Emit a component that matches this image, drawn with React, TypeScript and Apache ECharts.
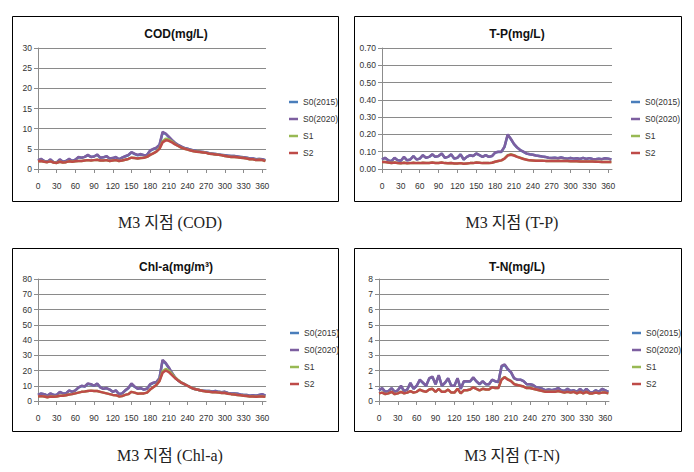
import React, { useEffect, useRef } from "react";
import * as echarts from "echarts";

const days = [0,5,10,15,20,25,30,35,40,45,50,55,60,65,70,75,80,85,90,95,100,105,110,115,120,125,130,135,140,145,150,155,160,165,170,175,180,185,190,195,200,205,210,215,220,225,230,235,240,245,250,255,260,265,270,275,280,285,290,295,300,305,310,315,320,325,330,335,340,345,350,355,360,365];
const xTicks = [0,30,60,90,120,150,180,210,240,270,300,330,360];
const seriesNames = ["S0(2015)", "S0(2020)", "S1", "S2"];
const seriesColors = ["#4A7EBB", "#7D5FA0", "#98B954", "#BE4B48"];

// COD (mg/L)
const codS0_2015 = [2.1,2.4,2.0,1.8,2.3,1.7,1.6,2.3,1.8,2.0,2.4,2.0,2.3,2.9,2.8,3.0,3.4,3.0,3.1,3.5,2.8,2.9,3.1,2.6,2.7,2.9,2.4,2.8,3.1,3.4,4.1,3.7,3.4,3.6,3.4,3.5,4.5,4.9,5.2,5.9,9.0,8.7,7.9,7.1,6.4,5.9,5.5,5.2,5.0,4.8,4.6,4.4,4.3,4.2,4.1,3.9,3.8,3.7,3.6,3.5,3.4,3.3,3.2,3.2,3.1,3.0,2.9,2.8,2.6,2.6,2.4,2.5,2.4,2.2];
const codS0_2020 = [2.2,2.5,2.0,1.8,2.4,1.7,1.6,2.4,1.8,2.0,2.5,2.0,2.3,3.0,2.8,3.0,3.5,3.0,3.1,3.6,2.8,2.9,3.2,2.6,2.7,3.0,2.4,2.8,3.2,3.5,4.2,3.8,3.5,3.7,3.4,3.5,4.6,5.0,5.3,6.0,9.2,8.8,8.0,7.2,6.5,6.0,5.6,5.2,5.0,4.8,4.6,4.4,4.3,4.2,4.1,3.9,3.8,3.7,3.6,3.5,3.4,3.3,3.2,3.2,3.1,3.0,2.9,2.8,2.6,2.6,2.4,2.5,2.4,2.2];
const codS1 = [1.9,2.0,1.8,1.7,1.9,1.6,1.5,1.8,1.6,1.7,1.9,1.8,1.9,2.0,2.0,2.1,2.2,2.1,2.2,2.3,2.1,2.1,2.2,2.0,2.1,2.2,2.0,2.1,2.3,2.5,2.8,2.7,2.6,2.7,2.8,3.0,3.5,3.9,4.3,5.1,6.9,7.5,7.3,6.8,6.2,5.7,5.3,5.0,4.8,4.6,4.4,4.3,4.2,4.1,4.0,3.8,3.7,3.6,3.5,3.4,3.2,3.1,3.0,3.0,2.9,2.8,2.7,2.6,2.4,2.4,2.2,2.3,2.2,2.0];
const codS2 = [1.9,2.0,1.8,1.7,1.9,1.6,1.5,1.8,1.6,1.7,1.9,1.8,1.9,2.0,2.0,2.1,2.2,2.1,2.2,2.3,2.1,2.1,2.2,2.0,2.1,2.2,2.0,2.1,2.3,2.5,2.8,2.7,2.6,2.7,2.8,3.0,3.5,3.9,4.3,5.0,6.6,7.1,7.0,6.6,6.1,5.7,5.3,5.0,4.8,4.6,4.4,4.3,4.2,4.1,4.0,3.8,3.7,3.6,3.5,3.4,3.2,3.1,3.0,3.0,2.9,2.8,2.7,2.6,2.4,2.4,2.2,2.3,2.2,2.0];

// T-P (mg/L)
const tpS0_2015 = [0.054,0.064,0.050,0.045,0.064,0.050,0.048,0.069,0.050,0.055,0.074,0.055,0.060,0.079,0.065,0.070,0.084,0.070,0.075,0.089,0.065,0.070,0.084,0.060,0.065,0.084,0.055,0.070,0.079,0.075,0.089,0.080,0.070,0.080,0.070,0.075,0.094,0.099,0.099,0.128,0.197,0.173,0.144,0.124,0.109,0.099,0.089,0.085,0.082,0.078,0.075,0.072,0.070,0.065,0.063,0.065,0.062,0.066,0.062,0.060,0.064,0.060,0.062,0.058,0.064,0.058,0.063,0.058,0.056,0.060,0.057,0.062,0.060,0.055];
const tpS0_2020 = [0.055,0.065,0.050,0.045,0.065,0.050,0.048,0.070,0.050,0.055,0.075,0.055,0.060,0.080,0.065,0.070,0.085,0.070,0.075,0.090,0.065,0.070,0.085,0.060,0.065,0.085,0.055,0.070,0.080,0.075,0.090,0.080,0.070,0.080,0.070,0.075,0.095,0.100,0.100,0.130,0.200,0.175,0.145,0.125,0.110,0.100,0.090,0.085,0.082,0.078,0.075,0.072,0.070,0.065,0.063,0.065,0.062,0.066,0.062,0.060,0.064,0.060,0.062,0.058,0.064,0.058,0.063,0.058,0.056,0.060,0.057,0.062,0.060,0.055];
const tpS1 = [0.040,0.040,0.037,0.035,0.038,0.035,0.033,0.036,0.033,0.034,0.036,0.034,0.034,0.036,0.035,0.035,0.037,0.035,0.035,0.037,0.034,0.033,0.035,0.032,0.032,0.034,0.030,0.032,0.034,0.034,0.037,0.036,0.034,0.035,0.034,0.036,0.042,0.046,0.050,0.061,0.080,0.085,0.080,0.072,0.065,0.059,0.054,0.050,0.049,0.048,0.048,0.048,0.047,0.047,0.047,0.047,0.046,0.046,0.046,0.046,0.045,0.045,0.045,0.044,0.044,0.044,0.043,0.043,0.042,0.042,0.041,0.041,0.040,0.040];
const tpS2 = [0.040,0.040,0.037,0.035,0.038,0.035,0.033,0.036,0.033,0.034,0.036,0.034,0.034,0.036,0.035,0.035,0.037,0.035,0.035,0.037,0.034,0.033,0.035,0.032,0.032,0.034,0.030,0.032,0.034,0.034,0.037,0.036,0.034,0.035,0.034,0.036,0.042,0.046,0.050,0.060,0.078,0.082,0.078,0.070,0.064,0.058,0.054,0.050,0.049,0.048,0.048,0.048,0.047,0.047,0.047,0.047,0.046,0.046,0.046,0.046,0.045,0.045,0.045,0.044,0.044,0.044,0.043,0.043,0.042,0.042,0.041,0.041,0.040,0.040];

// Chl-a (mg/m3)
const chlS0_2015 = [4.0,4.8,4.5,3.5,4.8,4.0,4.0,5.8,5.0,5.0,6.8,6.0,7.0,8.8,9.8,9.5,11.2,10.8,10.0,11.2,9.0,8.0,8.3,7.5,6.0,6.8,4.5,5.0,6.8,8.3,11.2,9.3,8.0,8.3,7.5,8.0,10.8,11.8,12.3,14.8,26.5,24.6,21.7,18.3,15.4,13.4,12.0,11.0,10.0,9.0,8.0,7.5,7.0,6.8,6.5,6.5,6.3,6.5,6.0,5.8,6.0,5.3,5.0,5.0,4.8,4.3,4.0,4.0,3.5,3.8,3.5,4.0,4.4,3.5];
const chlS0_2020 = [4.0,5.0,4.5,3.5,5.0,4.0,4.0,6.0,5.0,5.0,7.0,6.0,7.0,9.0,10.0,9.5,11.5,11.0,10.0,11.5,9.0,8.0,8.5,7.5,6.0,7.0,4.5,5.0,7.0,8.5,11.5,9.5,8.0,8.5,7.5,8.0,11.0,12.0,12.5,15.0,27.0,25.0,22.0,18.5,15.5,13.5,12.0,11.0,10.0,9.0,8.0,7.5,7.0,6.8,6.5,6.5,6.3,6.5,6.0,5.8,6.0,5.3,5.0,5.0,4.8,4.3,4.0,4.0,3.5,3.8,3.5,4.0,4.5,3.5];
const chlS1 = [3.0,3.2,3.0,2.5,3.0,2.8,3.0,3.5,3.5,3.8,4.2,4.5,5.0,5.5,6.0,6.2,6.5,6.8,6.5,6.5,6.0,5.5,5.0,4.5,4.0,3.8,3.0,3.2,4.0,4.5,6.0,5.5,4.8,5.0,5.0,5.5,7.5,9.0,10.5,13.3,19.5,21.0,20.0,17.8,15.4,13.7,12.1,11.0,10.0,9.0,8.0,7.5,7.0,6.5,6.3,6.0,5.8,5.8,5.5,5.3,5.2,4.8,4.5,4.3,4.0,3.8,3.5,3.3,3.0,3.0,2.8,3.0,3.0,2.7];
const chlS2 = [3.0,3.2,3.0,2.5,3.0,2.8,3.0,3.5,3.5,3.8,4.2,4.5,5.0,5.5,6.0,6.2,6.5,6.8,6.5,6.5,6.0,5.5,5.0,4.5,4.0,3.8,3.0,3.2,4.0,4.5,6.0,5.5,4.8,5.0,5.0,5.5,7.5,9.0,10.5,13.0,18.5,20.0,19.0,17.0,15.0,13.5,12.0,11.0,10.0,9.0,8.0,7.5,7.0,6.5,6.3,6.0,5.8,5.8,5.5,5.3,5.2,4.8,4.5,4.3,4.0,3.8,3.5,3.3,3.0,3.0,2.8,3.0,3.0,2.7];

// T-N (mg/L)
const tnS0_2015 = [0.70,0.83,0.60,0.65,0.83,0.60,0.70,0.97,0.65,0.75,1.17,0.80,1.00,1.37,1.18,1.00,1.47,1.57,1.10,1.66,1.00,1.18,1.47,1.00,1.00,1.47,0.80,1.28,1.28,1.28,1.52,1.28,1.10,1.28,1.10,1.10,1.38,1.28,1.24,2.25,2.36,2.07,1.88,1.48,1.40,1.40,1.30,1.10,1.10,1.05,0.90,0.85,0.80,0.70,0.75,0.70,0.75,0.85,0.70,0.65,0.80,0.65,0.70,0.60,0.80,0.60,0.80,0.60,0.55,0.70,0.60,0.80,0.70,0.60];
const tnS0_2020 = [0.70,0.85,0.60,0.65,0.85,0.60,0.70,1.00,0.65,0.75,1.20,0.80,1.00,1.40,1.20,1.00,1.50,1.60,1.10,1.70,1.00,1.20,1.50,1.00,1.00,1.50,0.80,1.30,1.30,1.30,1.55,1.30,1.10,1.30,1.10,1.10,1.40,1.30,1.25,2.30,2.40,2.10,1.90,1.50,1.40,1.40,1.30,1.10,1.10,1.05,0.90,0.85,0.80,0.70,0.75,0.70,0.75,0.85,0.70,0.65,0.80,0.65,0.70,0.60,0.80,0.60,0.80,0.60,0.55,0.70,0.60,0.80,0.70,0.60];
const tnS1 = [0.50,0.55,0.45,0.50,0.60,0.45,0.50,0.60,0.50,0.55,0.65,0.55,0.60,0.75,0.65,0.60,0.75,0.80,0.60,0.80,0.60,0.60,0.75,0.55,0.55,0.80,0.50,0.70,0.70,0.75,0.90,0.80,0.70,0.80,0.75,0.75,0.90,0.85,0.85,1.42,1.58,1.43,1.32,1.12,1.06,1.00,0.95,0.85,0.85,0.80,0.75,0.70,0.65,0.60,0.60,0.60,0.60,0.65,0.60,0.55,0.60,0.55,0.60,0.50,0.60,0.50,0.60,0.50,0.50,0.55,0.50,0.55,0.55,0.50];
const tnS2 = [0.50,0.55,0.45,0.50,0.60,0.45,0.50,0.60,0.50,0.55,0.65,0.55,0.60,0.75,0.65,0.60,0.75,0.80,0.60,0.80,0.60,0.60,0.75,0.55,0.55,0.80,0.50,0.70,0.70,0.75,0.90,0.80,0.70,0.80,0.75,0.75,0.90,0.85,0.85,1.40,1.55,1.40,1.30,1.10,1.05,1.00,0.95,0.85,0.85,0.80,0.75,0.70,0.65,0.60,0.60,0.60,0.60,0.65,0.60,0.55,0.60,0.55,0.60,0.50,0.60,0.50,0.60,0.50,0.50,0.55,0.50,0.55,0.55,0.50];

const panelTitles = ["COD(mg/L)", "T-P(mg/L)", "Chl-a(mg/m³)", "T-N(mg/L)"];
const captions = ["M3 지점 (COD)", "M3 지점 (T-P)", "M3 지점 (Chl-a)", "M3 지점 (T-N)"];
const yMax = [30, 0.7, 80, 8];
const yStep = [5, 0.1, 10, 1];
const yDecimals = [0, 2, 0, 0];

const panelData = [
  [codS0_2015, codS0_2020, codS1, codS2],
  [tpS0_2015, tpS0_2020, tpS1, tpS2],
  [chlS0_2015, chlS0_2020, chlS1, chlS2],
  [tnS0_2015, tnS0_2020, tnS1, tnS2],
];

// layout (pixels)
const grids = [
  { left: 38, top: 48, width: 228, height: 121 },
  { left: 382, top: 48, width: 230, height: 121 },
  { left: 38, top: 279, width: 228, height: 122 },
  { left: 379, top: 279, width: 230, height: 122 },
];
const boxes = [
  { x: 12.5, y: 16.5, width: 326, height: 185 },
  { x: 354.5, y: 16.5, width: 327, height: 185 },
  { x: 12.5, y: 248.5, width: 326, height: 183 },
  { x: 354.5, y: 248.5, width: 327, height: 183 },
];
const titlePos = [
  [176, 34],
  [517, 34],
  [176, 267],
  [517, 267],
];
const legendPos = [
  { left: 284, top: 92 },
  { left: 626, top: 92 },
  { left: 285, top: 323 },
  { left: 627, top: 323 },
];
const captionPos = [
  [170, 222],
  [512, 222],
  [170, 455],
  [512, 455],
];

const SANS = "'Liberation Sans', 'Noto Sans', sans-serif";
const SERIF = "'Liberation Serif', 'Noto Sans CJK KR', serif";

export default function App() {
  const ref = useRef<HTMLDivElement>(null);
  useEffect(() => {
    if (!ref.current) return;
    const chart = echarts.init(ref.current, undefined, { renderer: "svg" });

    const xAxis: any[] = [];
    const yAxis: any[] = [];
    const series: any[] = [];
    const legend: any[] = [];
    const graphic: any[] = [];

    for (let p = 0; p < 4; p++) {
      xAxis.push({
        type: "value",
        gridIndex: p,
        min: 0,
        max: 366,
        interval: 30,
        axisLine: { show: true, onZero: false, lineStyle: { color: "#8c8c8c", width: 1 } },
        axisTick: { show: true, length: 4, lineStyle: { color: "#8c8c8c" } },
        splitLine: { show: false },
        axisLabel: {
          margin: 12,
          fontSize: 8.5,
          color: "#333",
          fontFamily: SANS,
          showMaxLabel: false,
          formatter: (v: number) => (xTicks.indexOf(v) >= 0 ? String(v) : ""),
        },
      });
      yAxis.push({
        type: "value",
        gridIndex: p,
        min: 0,
        max: yMax[p],
        interval: yStep[p],
        axisLine: { show: true, lineStyle: { color: "#8c8c8c", width: 1 } },
        axisTick: { show: true, length: 4, lineStyle: { color: "#8c8c8c" } },
        splitLine: { show: true, lineStyle: { color: "#8a8a8a", width: 1 } },
        axisLabel: {
          margin: 6,
          fontSize: 8.5,
          color: "#333",
          fontFamily: SANS,
          formatter: (v: number) => v.toFixed(yDecimals[p]),
        },
      });
      for (let s = 0; s < 4; s++) {
        series.push({
          type: "line",
          name: seriesNames[s],
          xAxisIndex: p,
          yAxisIndex: p,
          symbol: "none",
          showSymbol: false,
          lineStyle: { width: 2.5, color: seriesColors[s] },
          itemStyle: { color: seriesColors[s] },
          data: days.map((d, i) => [d, panelData[p][s][i]]),
        });
      }
      legend.push({
        orient: "vertical",
        left: legendPos[p].left,
        top: legendPos[p].top,
        icon: "rect",
        itemWidth: 9,
        itemHeight: 2.5,
        itemGap: 7,
        data: seriesNames,
        selectedMode: false,
        textStyle: { fontSize: 8.5, color: "#333", fontFamily: SANS, lineHeight: 10 },
      });
      graphic.push({
        type: "rect",
        shape: boxes[p],
        style: { fill: "none", stroke: "#000", lineWidth: 1 },
        silent: true,
      });
      graphic.push({
        type: "text",
        x: titlePos[p][0],
        y: titlePos[p][1],
        style: {
          text: panelTitles[p],
          fontSize: 12,
          fontWeight: "bold",
          fontFamily: SANS,
          fill: "#111",
          textAlign: "center",
          textVerticalAlign: "middle",
        },
      });
      graphic.push({
        type: "text",
        x: captionPos[p][0],
        y: captionPos[p][1],
        style: {
          text: captions[p],
          fontSize: 16,
          fontFamily: SERIF,
          fill: "#222",
          textAlign: "center",
          textVerticalAlign: "middle",
        },
      });
    }

    chart.setOption({
      animation: false,
      backgroundColor: "#ffffff",
      grid: grids.map((g) => ({ ...g, containLabel: false })),
      xAxis,
      yAxis,
      series,
      legend,
      graphic,
    });
    return () => chart.dispose();
  }, []);
  return (
    <div
      ref={ref}
      style={{ position: "absolute", left: 0, top: 0, width: 694, height: 472 }}
    />
  );
}
